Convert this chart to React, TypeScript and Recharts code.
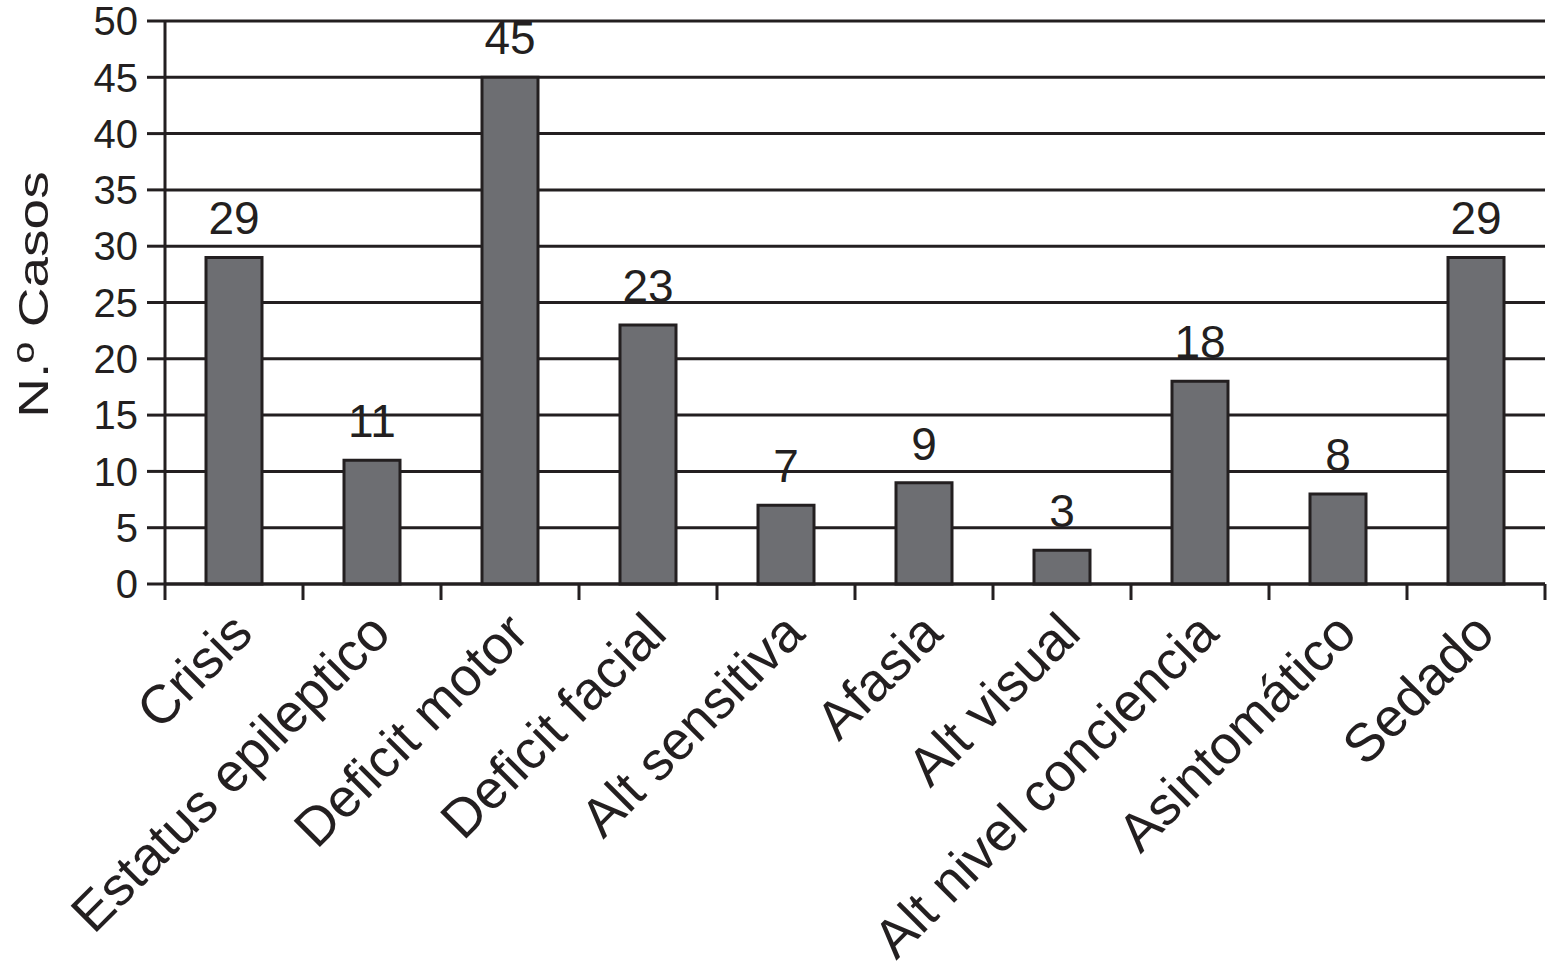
import { BarChart, Bar, XAxis, YAxis, CartesianGrid, LabelList, Label } from "recharts";

const categories = [
  "Crisis",
  "Estatus epileptico",
  "Deficit motor",
  "Deficit facial",
  "Alt sensitiva",
  "Afasia",
  "Alt visual",
  "Alt nivel conciencia",
  "Asintomático",
  "Sedado",
];
const casos = [29, 11, 45, 23, 7, 9, 3, 18, 8, 29];
const yTicks = [0, 5, 10, 15, 20, 25, 30, 35, 40, 45, 50];

const data = categories.map((name, i) => ({ name, value: casos[i] }));

const W = 1548;
const H = 973;
const LEFT = 165;
const RIGHT_MARGIN = 3;
const BAND = (W - LEFT - RIGHT_MARGIN) / categories.length;
const INK = "#231f20";
const FONT = "'Liberation Sans', Arial, Helvetica, sans-serif";

const XTick = (props: any) => {
  const { x, y, payload, index } = props;
  const ax = x + 21;
  const ay = y + 52;
  return (
    <g>
      <line x1={x - BAND / 2} y1={y} x2={x - BAND / 2} y2={y + 16} stroke={INK} strokeWidth={3} />
      {index === categories.length - 1 && (
        <line x1={x + BAND / 2} y1={y} x2={x + BAND / 2} y2={y + 16} stroke={INK} strokeWidth={3} />
      )}
      <text
        x={ax}
        y={ay}
        textAnchor="end"
        transform={`rotate(-45, ${ax}, ${ay})`}
        fontSize={54}
        fill={INK}
        fontFamily={FONT}
      >
        {payload.value}
      </text>
    </g>
  );
};

// the axis title is drawn a bit stretched along its length, as in the source
const YLabel = (props: any) => {
  const { viewBox } = props;
  const cx = viewBox.x + 33;
  const cy = viewBox.y + viewBox.height / 2 - 8;
  return (
    <text
      x={0}
      y={0}
      textAnchor="middle"
      dominantBaseline="central"
      transform={`translate(${cx}, ${cy}) rotate(-90) scale(1.28, 1)`}
      fontSize={43}
      fill={INK}
      fontFamily={FONT}
    >
      N.º Casos
    </text>
  );
};

export default function App() {
  return (
    <div style={{ position: "absolute", left: 0, top: 0, background: "#fff" }}>
      <BarChart
        width={W}
        height={H}
        data={data}
        margin={{ top: 21, right: RIGHT_MARGIN, left: 0, bottom: 0 }}
        barSize={56}
      >
        <CartesianGrid vertical={false} stroke={INK} strokeWidth={3} strokeOpacity={1} />
        <XAxis
          dataKey="name"
          interval={0}
          height={389}
          tickLine={false}
          tickSize={0}
          tickMargin={0}
          axisLine={{ stroke: INK, strokeWidth: 3 }}
          tick={<XTick />}
        />
        <YAxis
          width={LEFT}
          domain={[0, 50]}
          ticks={yTicks}
          interval={0}
          tickSize={18}
          tickMargin={9}
          axisLine={{ stroke: INK, strokeWidth: 3 }}
          tickLine={{ stroke: INK, strokeWidth: 3 }}
          tick={{ fill: INK, fontSize: 40, fontFamily: FONT }}
        >
          <Label content={<YLabel />} />
        </YAxis>
        <Bar dataKey="value" fill="#6d6e72" stroke={INK} strokeWidth={3} isAnimationActive={false}>
          <LabelList
            dataKey="value"
            position="top"
            offset={23}
            fill={INK}
            fontSize={46}
            fontFamily={FONT}
          />
        </Bar>
      </BarChart>
    </div>
  );
}
